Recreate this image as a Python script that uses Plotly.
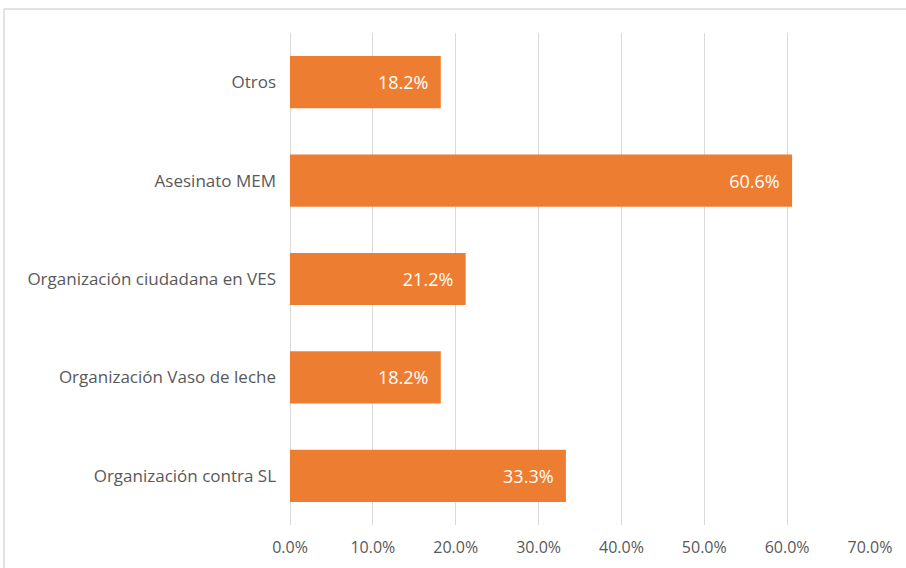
import plotly.graph_objects as go

# Categories listed bottom-to-top as they appear on the y axis
categories = [
    "Organización contra SL",
    "Organización Vaso de leche",
    "Organización ciudadana en VES",
    "Asesinato MEM",
    "Otros",
]
values = [33.3, 18.2, 21.2, 60.6, 18.2]
tick_vals = [0, 10, 20, 30, 40, 50, 60, 70]
tick_text = ["0.0%", "10.0%", "20.0%", "30.0%", "40.0%", "50.0%", "60.0%", "70.0%"]

BAR_COLOR = "#ED7D31"
TEXT_COLOR = "#595959"
GRID_COLOR = "#D9D9D9"
FONT = "Open Sans, sans-serif"

fig = go.Figure(
    go.Bar(
        x=values,
        y=categories,
        orientation="h",
        marker=dict(color=BAR_COLOR, line=dict(width=0)),
        width=0.53,
        # non-breaking spaces keep the value off the bar's end
        text=[f"{v:.1f}%\u00a0\u00a0" for v in values],
        textposition="inside",
        insidetextanchor="end",
        textfont=dict(color="white", size=18, family=FONT),
        cliponaxis=False,
    )
)

fig.update_layout(
    width=906,
    height=568,
    margin=dict(l=290, r=36, t=33, b=43),
    paper_bgcolor="white",
    plot_bgcolor="white",
    showlegend=False,
    font=dict(family=FONT, color=TEXT_COLOR, size=16),
    xaxis=dict(
        range=[0, 70],
        tickvals=tick_vals,
        ticktext=tick_text,
        showgrid=True,
        gridcolor=GRID_COLOR,
        gridwidth=1,
        zeroline=True,
        zerolinecolor=GRID_COLOR,
        zerolinewidth=1,
        showline=False,
        ticks="",
        tickfont=dict(size=16, color=TEXT_COLOR),
        ticklabelstandoff=11,
        automargin=False,
        fixedrange=True,
    ),
    yaxis=dict(
        categoryorder="array",
        categoryarray=categories,
        showgrid=False,
        showline=False,
        ticks="",
        tickfont=dict(size=17, color=TEXT_COLOR),
        ticklabelstandoff=13,
        automargin=False,
        fixedrange=True,
    ),
    shapes=[
        # chart frame: top and left edges
        dict(type="line", xref="paper", yref="paper",
             x0=-0.493, x1=1.2, y0=1.0488, y1=1.0488,
             line=dict(color=GRID_COLOR, width=1.5)),
        dict(type="line", xref="paper", yref="paper",
             x0=-0.493, x1=-0.493, y0=1.0488, y1=-0.2,
             line=dict(color=GRID_COLOR, width=1.5)),
    ],
)

fig.write_html("out.html")
